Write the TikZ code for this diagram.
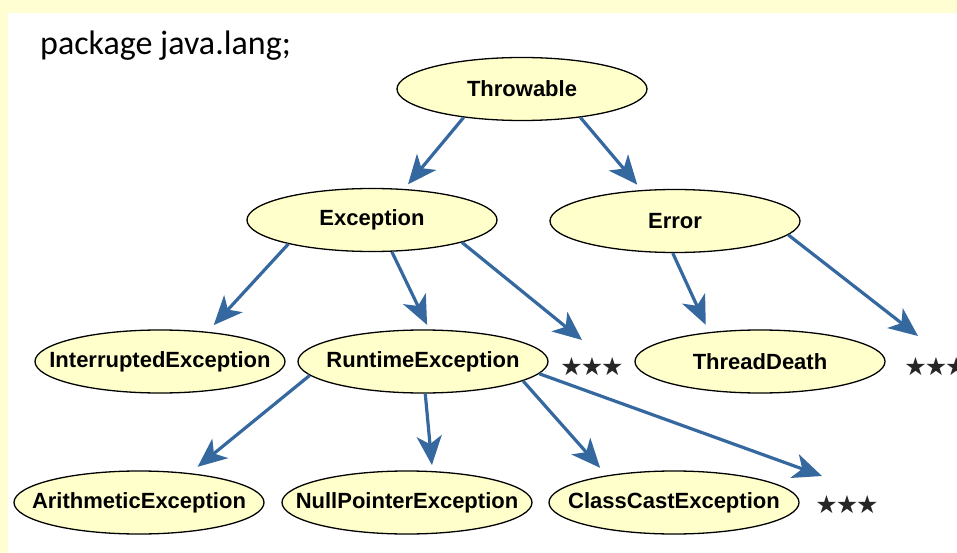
\documentclass[tikz,border=0pt]{standalone}
\usepackage{fontspec}
\setmainfont{Liberation Sans}
\newfontfamily\calfont{Carlito}
\newfontfamily\symfont{DejaVu Sans}
\usetikzlibrary{shapes.geometric,arrows.meta}
\definecolor{bgyellow}{HTML}{FFFDD2}
\definecolor{ellfill}{HTML}{FFFFCC}
\definecolor{arrblue}{RGB}{54,104,160}
\tikzset{
  cls/.style={ellipse, draw=black, line width=1.3pt, fill=ellfill, inner sep=0pt,
    minimum width=250pt, minimum height=63pt, font=\fontsize{22}{24}\selectfont\bfseries},
  inh/.style={draw=arrblue, line width=3.2pt, -{Stealth[length=29pt,width=25pt,inset=8pt]}},
  more/.style={font=\symfont\fontsize{25}{26}\selectfont, text=black!85, inner sep=0pt},
}
\begin{document}
\begin{tikzpicture}[x=1pt,y=-1pt]
\useasboundingbox (0,0) rectangle (957,553);
\clip (0,0) rectangle (957,553);
\fill[bgyellow] (0,0) rectangle (957,553);
\fill[white] (8,13) rectangle (957,553);

\node[anchor=base west, font=\calfont\fontsize{34}{36}\selectfont, inner sep=0pt] (pkg) at (40,55) {package java.lang;};

\node[cls] (thr) at (522,89) {\makebox[0pt]{Throwable}};
\node[cls] (exc) at (372,220) {\makebox[0pt]{Exception}};
\node[cls] (err) at (675,221) {\makebox[0pt]{Error}};
\node[cls] (int) at (160,361.5) {\makebox[0pt]{InterruptedException}};
\node[cls] (rte) at (423,361.5) {\makebox[0pt]{RuntimeException}};
\node[cls] (td) at (760,361.5) {\makebox[0pt]{ThreadDeath}};
\node[cls] (ari) at (139,502.5) {\makebox[0pt]{ArithmeticException}};
\node[cls] (npe) at (407,502.5) {\makebox[0pt]{NullPointerException}};
\node[cls] (cce) at (674,502.5) {\makebox[0pt]{ClassCastException}};

\node[more] (st1) at (592,367) {★\kern-2pt★\kern-2pt★};
\node[more] (st2) at (936,367) {★\kern-2pt★\kern-2pt★};
\node[more] (st3) at (847,505) {★\kern-2pt★\kern-2pt★};

\coordinate (s1) at (582,340);
\coordinate (s2) at (918,336);
\coordinate (s3) at (822,476);

\draw[inh, shorten >=6pt] (thr.206) -- (exc.44);
\draw[inh, shorten >=7pt] (thr.334) -- (err.137);
\draw[inh, shorten >=9pt] (exc.196) -- (int.32);
\draw[inh, shorten >=5pt] (exc.302) -- (rte.79);
\draw[inh] (exc.346) -- (s1);
\draw[inh, shorten >=8pt] (err.266) -- (td.150);
\draw[inh] (err.353) -- (s2);
\draw[inh, shorten >=10pt] (rte.187) -- (ari.30);
\draw[inh, shorten >=6pt] (rte.274) -- (npe.51);
\draw[inh, shorten >=10pt] (rte.349) -- (cce.158);
\draw[inh] (rte.354) -- (s3);
\end{tikzpicture}
\end{document}
